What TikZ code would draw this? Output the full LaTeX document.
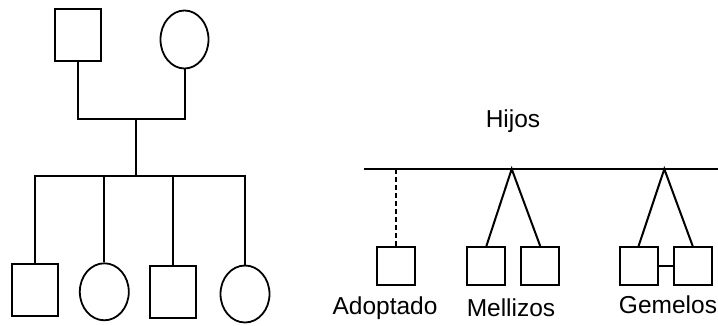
\documentclass[tikz,border=0pt]{standalone}
\usepackage{fontspec}
\setmainfont{Liberation Sans}
\usetikzlibrary{shapes.geometric}
\begin{document}
\begin{tikzpicture}[x=1pt,y=-1pt,
  line/.style={line width=2pt},
  sq/.style={draw,line width=2pt,rectangle,inner sep=0pt,minimum width=46pt,minimum height=52pt},
  sqs/.style={draw,line width=2pt,rectangle,inner sep=0pt,minimum width=38pt,minimum height=38pt},
  circ/.style={draw,line width=1.8pt,ellipse,inner sep=0pt,minimum width=49pt,minimum height=57pt},
  lbl/.style={inner sep=0pt,font=\fontsize{24.5pt}{26pt}\selectfont}]
\useasboundingbox (0,0) rectangle (718,325);
% left pedigree
\node[sq] (father) at (77.5,34.5) {};
\node[circ,minimum width=48pt,minimum height=58pt] (mother) at (184.5,39.5) {};
\coordinate (pc) at (136,119);
\coordinate (sib) at (136,176);
\node[sq] (c1) at (35.3,289.7) {};
\node[circ] (c2) at (104.3,291.8) {};
\node[sq] (c3) at (173.3,291.7) {};
\node[circ] (c4) at (245,294) {};
\draw[line] (father.south) |- (pc) -| (mother.south);
\draw[line] (pc) -- (sib);
\draw[line] (c1.north) |- (sib) -| (c4.north);
\draw[line] (sib) -| (c2.north);
\draw[line] (sib) -| (c3.north);
% right legend
\node[lbl] (hijos) at (513,121) {Hijos};
\coordinate (hl) at (364,169);
\coordinate (hr) at (718,169);
\draw[line] (hl) -- (hr);
\node[sqs] (adop) at (396,266.3) {};
\coordinate (ad) at (396,169);
\draw[line,dash pattern=on 5pt off 3pt] (ad) -- (adop.north);
\coordinate (ma) at (511.7,169);
\node[sqs] (m1) at (486.3,266.3) {};
\node[sqs] (m2) at (540.3,266.3) {};
\draw[line] (m1.north) -- (ma) -- (m2.north);
\coordinate (ga) at (664.3,169);
\node[sqs] (g1) at (638.5,266.3) {};
\node[sqs] (g2) at (692.8,266.3) {};
\draw[line] (g1.north) -- (ga) -- (g2.north);
\draw[line] (g1.east) -- (g2.west);
\node[lbl] (tadop) at (385,308) {Adoptado};
\node[lbl] (tmell) at (511,308) {Mellizos};
\node[lbl] (tgem) at (668,305) {Gemelos};
\end{tikzpicture}
\end{document}
